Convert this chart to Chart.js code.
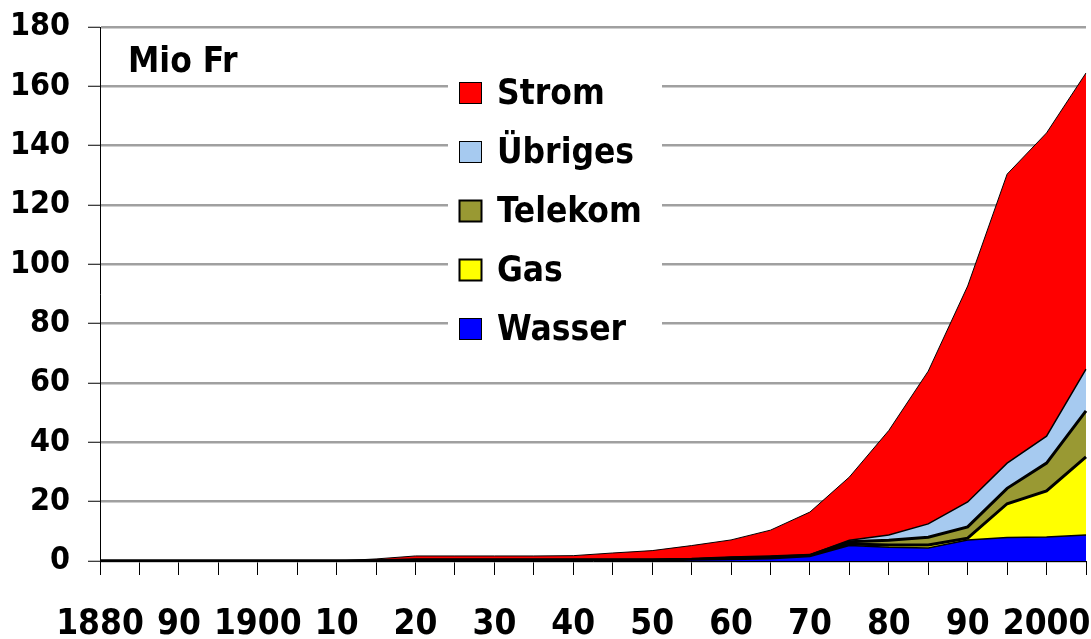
<!DOCTYPE html>
<html>
<head>
<meta charset="utf-8">
<script src="https://cdn.jsdelivr.net/npm/chart.js@4.4.1/dist/chart.umd.min.js"></script>
<style>
  html, body { margin: 0; padding: 0; background: #fff; }
</style>
</head>
<body>
<canvas id="chart" width="1091" height="639"></canvas>
<script>
'use strict';
var years = [1880, 1885, 1890, 1895, 1900, 1905, 1910, 1915, 1920, 1925, 1930, 1935, 1940,
  1945, 1950, 1955, 1960, 1965, 1970, 1975, 1980, 1985, 1990, 1995, 2000, 2005];
var xTickLabels = ['1880', '', '90', '', '1900', '', '10', '', '20', '', '30', '', '40',
  '', '50', '', '60', '', '70', '', '80', '', '90', '', '2000', ''];
var yTicks = [0, 20, 40, 60, 80, 100, 120, 140, 160, 180];

// Mio Fr, stacked from bottom to top
var wasser = [0, 0, 0, 0, 0, 0, 0, 0, 0.1, 0.1, 0.1, 0.1, 0.1, 0.1, 0.1, 0.3, 0.5, 0.8, 1.5, 5.2, 4.6, 4.4, 7.1, 7.9, 8.1, 8.8];
var gas = [0, 0, 0, 0, 0, 0, 0, 0, 0.1, 0.1, 0.1, 0.1, 0.1, 0.1, 0.1, 0.1, 0.4, 0.4, 0.2, 0.5, 0.8, 1.0, 0.6, 11.4, 15.5, 26.3];
var telekom = [0, 0, 0, 0, 0, 0, 0, 0.1, 0.2, 0.2, 0.2, 0.2, 0.2, 0.2, 0.2, 0.2, 0.2, 0.2, 0.2, 0.8, 1.6, 2.6, 3.8, 5.2, 9.4, 15.5];
var uebriges = [0, 0, 0, 0, 0, 0, 0, 0, 0.1, 0.1, 0.1, 0.1, 0.1, 0.1, 0.1, 0.1, 0.1, 0.1, 0.2, 0.5, 1.8, 4.5, 8.4, 8.5, 9.1, 14.1];
var strom = [0, 0, 0, 0, 0, 0, 0, 0.6, 1.2, 1.2, 1.2, 1.2, 1.3, 2.2, 3.0, 4.5, 5.9, 8.9, 14.4, 21.3, 35.2, 51.5, 72.8, 97.4, 102.2, 99.8];

var FONT = "'DejaVu Sans Condensed', 'DejaVu Sans', sans-serif";

function area(label, data, color, width, fill) {
  return {
    label: label,
    data: data,
    backgroundColor: color,
    borderColor: '#000',
    borderWidth: width,
    fill: fill,
    pointRadius: 0,
    tension: 0
  };
}

var overlay = {
  id: 'overlay',
  afterDraw: function (chart) {
    var ctx = chart.ctx;
    ctx.save();
    ctx.fillStyle = '#000';
    ctx.font = 'bold 35px ' + FONT;
    ctx.textAlign = 'left';
    ctx.textBaseline = 'alphabetic';
    ctx.fillText('Mio Fr', 128, 72);

    ctx.fillStyle = '#fff';
    ctx.fillRect(448, 62, 214, 292);
    var sets = chart.data.datasets.slice().reverse();
    for (var i = 0; i < sets.length; i++) {
      var base = 104 + i * 59;
      ctx.fillStyle = sets[i].backgroundColor;
      ctx.fillRect(459, base - 22, 23, 22);
      ctx.lineWidth = sets[i].borderWidth > 2 ? 2 : 1;
      ctx.strokeStyle = '#000';
      ctx.strokeRect(459.5, base - 21.5, 22, 21);
      ctx.fillStyle = '#000';
      ctx.font = 'bold 35px ' + FONT;
      ctx.fillText(sets[i].label, 497, base);
    }
    ctx.restore();
  }
};

var ctx = document.getElementById('chart').getContext('2d');
new Chart(ctx, {
  type: 'line',
  data: {
    labels: years,
    datasets: [
      area('Wasser', wasser, '#0000ff', 1.5, 'origin'),
      area('Gas', gas, '#ffff00', 3, '-1'),
      area('Telekom', telekom, '#999933', 3, '-1'),
      area('Übriges', uebriges, '#a6caf0', 1.5, '-1'),
      area('Strom', strom, '#ff0000', 1, '-1')
    ]
  },
  options: {
    responsive: false,
    animation: false,
    devicePixelRatio: 1,
    layout: { padding: { top: 27, right: 5, left: 0, bottom: 0 } },
    plugins: { legend: { display: false }, tooltip: { enabled: false } },
    scales: {
      x: {
        offset: false,
        grid: { drawOnChartArea: false, drawTicks: true, tickLength: 14, tickColor: '#000', lineWidth: 1 },
        border: { color: '#000', width: 1 },
        ticks: {
          autoSkip: false, maxRotation: 0, padding: 29, color: '#000',
          font: { family: FONT, size: 35, weight: 'bold' },
          callback: function (v, i) { return xTickLabels[i]; }
        },
        afterFit: function (s) { s.height = 78; s.paddingLeft = 0; s.paddingRight = 0; }
      },
      y: {
        stacked: true,
        min: 0,
        max: 180,
        afterBuildTicks: function (s) { s.ticks = yTicks.map(function (v) { return { value: v }; }); },
        grid: { color: '#a0a0a0', lineWidth: 2.5, drawTicks: true, tickLength: 12, tickColor: '#000', tickWidth: 1 },
        border: { color: '#000', width: 1 },
        ticks: {
          padding: 18, color: '#000',
          font: { family: FONT, size: 32, weight: 'bold' }
        },
        afterFit: function (s) { s.width = 100; s.paddingTop = 0; s.paddingBottom = 0; }
      }
    }
  },
  plugins: [overlay]
});
</script>
</body>
</html>
